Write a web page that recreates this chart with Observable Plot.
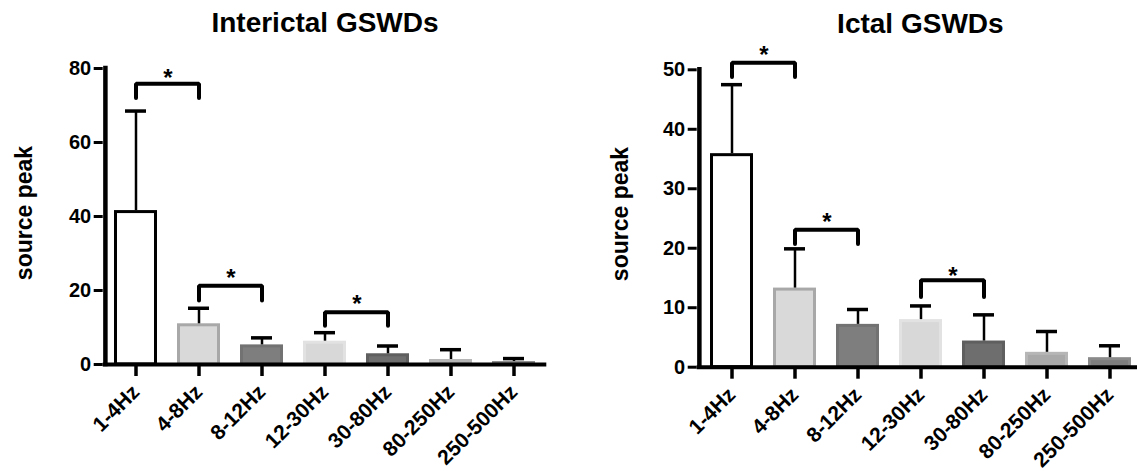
<!DOCTYPE html>
<html><head><meta charset="utf-8">
<script src="https://cdn.jsdelivr.net/npm/d3@7"></script>
<script src="https://cdn.jsdelivr.net/npm/@observablehq/plot@0.6"></script>
<style>
body{margin:0;background:#fff;overflow:hidden;}
#wrap{display:flex;width:1137px;height:471px;overflow:hidden;}
#wrap svg{flex:none;}
</style></head><body><div id="wrap"></div>
<script>
const bands = ["1-4Hz","4-8Hz","8-12Hz","12-30Hz","30-80Hz","80-250Hz","250-500Hz"];
const interictalMean = [41.6, 11.0, 5.3, 6.3, 2.9, 1.35, 0.8];
const interictalErrTop = [68.5, 15.2, 7.2, 8.6, 5.0, 4.0, 1.6];
const ictalMean = [35.9, 13.3, 7.2, 8.0, 4.4, 2.5, 1.6];
const ictalErrTop = [47.5, 19.9, 9.7, 10.3, 8.8, 6.0, 3.6];
const barFills = ["#ffffff","#d9d9d9","#7e7e7e","#d8d8d8","#6e6e6e","#a9a9a9","#7e7e7e"];
const barStrokes = ["#000000","#a8a8a8","#727272","#e2e2e2","#5f5f5f","#b6b6b6","#8a8a8a"];
const interictalTicks = [0, 20, 40, 60, 80];
const ictalTicks = [0, 10, 20, 30, 40, 50];
// [from, to, arm bottom, bracket top, star]
const interictalSig = [["1-4Hz","4-8Hz",72,75.9,79],["4-8Hz","8-12Hz",17.3,21.3,25],["12-30Hz","30-80Hz",10.5,14.1,17.8]];
const ictalSig = [["1-4Hz","4-8Hz",48.8,51.2,53.4],["4-8Hz","8-12Hz",20.7,23.1,25.4],["12-30Hz","30-80Hz",11.8,14.6,16.3]];

const FONT = "'Liberation Sans', Arial, Helvetica, sans-serif";

function makeChart(o) {
  const pi = 0.31, po = o.po;
  const step = (o.range[1] - o.range[0]) / (bands.length - pi + 2 * po);
  const leftOffset = step * po + step * (1 - pi) / 2;
  const rows = bands.map((b, i) => ({band: b, mean: o.means[i], err: o.errs[i], fill: barFills[i], stroke: barStrokes[i]}));
  const pts = [];
  o.sig.forEach((s, k) => {
    pts.push({k, x: s[0], y: s[2]}, {k, x: s[0], y: s[3]}, {k, x: s[1], y: s[3]}, {k, x: s[1], y: s[2]});
  });
  return Plot.plot({
    width: o.width,
    height: 471,
    marginLeft: o.marginLeft,
    marginRight: o.marginRight,
    marginTop: o.marginTop,
    marginBottom: o.marginBottom,
    style: {fontFamily: FONT, fontWeight: "bold", background: "white", overflow: "visible", color: "black"},
    x: {type: "band", domain: bands, range: o.range, paddingInner: pi, paddingOuter: po, align: 0.5},
    y: {domain: [0, o.yMax]},
    color: {type: "identity"},
    marks: [
      Plot.barY(rows, {x: "band", y: "mean", fill: "fill", stroke: "stroke", strokeWidth: 3, insetLeft: 1.5, insetRight: 1.5, insetTop: 1.5}),
      Plot.ruleX(rows, {x: "band", y1: "mean", y2: "err", strokeWidth: 2.5, stroke: "black"}),
      Plot.tickY(rows, {x: "band", y: "err", strokeWidth: 3.5, insetLeft: 11, insetRight: 11, stroke: "black"}),
      Plot.axisY({ticks: o.ticks, tickSize: 9, tickPadding: 3, strokeWidth: 3, fontSize: 20, label: null}),
      Plot.axisX({tickRotate: -45, tickSize: 12, tickPadding: 12, strokeWidth: 3.5, fontSize: 21, label: null}),
      Plot.ruleX([bands[0]], {x: d => d, y1: 0, y2: o.yMax, strokeWidth: 4.5, dx: -leftOffset, stroke: "black", strokeLinecap: "square"}),
      Plot.ruleY([0], {strokeWidth: 4, stroke: "black"}),
      Plot.line(pts, {x: "x", y: "y", z: "k", strokeWidth: 4, stroke: "black", strokeLinecap: "round", strokeLinejoin: "miter"}),
      Plot.text(o.sig, {x: d => d[0], y: d => d[4], text: () => "*", dx: step / 2, dy: 6, fontSize: 24, fill: "black"}),
      Plot.text([o.title], {frameAnchor: "top", lineAnchor: "middle", textAnchor: "middle", dy: o.titleDy, dx: o.titleDx, fontSize: 28, fill: "black"}),
      Plot.text(["source peak"], {frameAnchor: "left", textAnchor: "middle", lineAnchor: "middle", rotate: -90, dx: o.labelDx, dy: o.labelDy, fontSize: 23, fill: "black"})
    ]
  });
}

const wrap = document.getElementById("wrap");
wrap.appendChild(makeChart({
  title: "Interictal GSWDs", means: interictalMean, errs: interictalErrTop, ticks: interictalTicks, yMax: 80, sig: interictalSig,
  width: 568, marginLeft: 102.7, marginRight: 21.7, marginTop: 68, marginBottom: 107,
  range: [102.7, 546.3], po: 0.135, titleDy: -45, titleDx: 0, labelDx: -78.7, labelDy: -3.5
}));
wrap.appendChild(makeChart({
  title: "Ictal GSWDs", means: ictalMean, errs: ictalErrTop, ticks: ictalTicks, yMax: 50, sig: ictalSig,
  width: 569, marginLeft: 128.7, marginRight: 0, marginTop: 69.3, marginBottom: 104.3,
  range: [128.7, 576.9], po: 0.166, titleDy: -45.5, titleDx: 3, labelDx: -76.2, labelDy: -4.5
}));
</script></body></html>
